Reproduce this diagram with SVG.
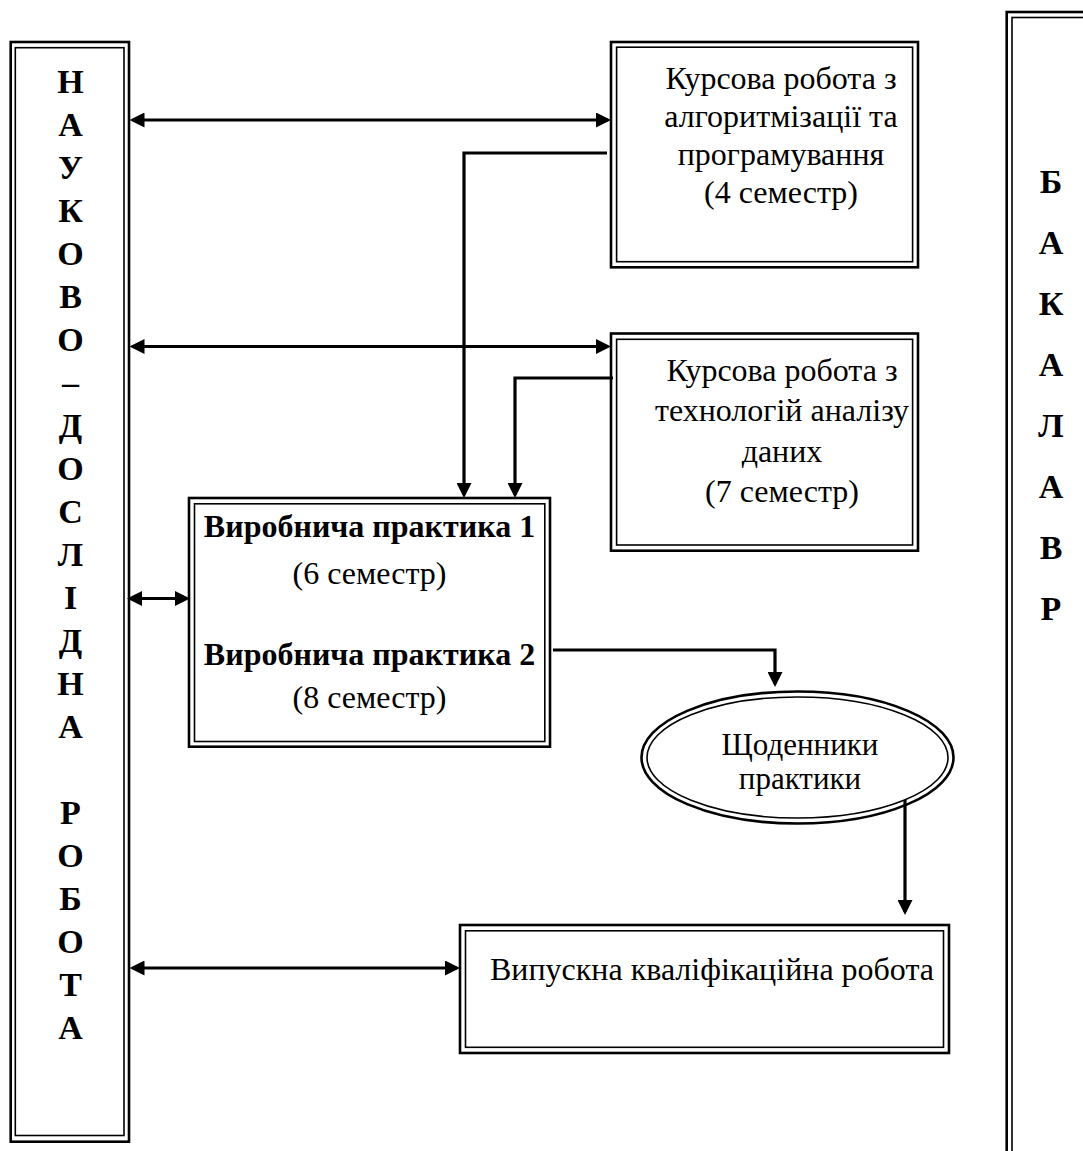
<svg xmlns="http://www.w3.org/2000/svg" width="1083" height="1151" viewBox="0 0 1083 1151">
<style>
.o{fill:none;stroke:#000;stroke-width:2.6}
.i{fill:none;stroke:#000;stroke-width:1.6}
.t{font-family:"Liberation Serif","Times New Roman",serif;font-size:32px;fill:#000;text-anchor:middle}
.e{font-size:31px}
.b{font-weight:bold}
.v{font-family:"Liberation Serif","Times New Roman",serif;font-size:34px;font-weight:bold;fill:#000;text-anchor:middle}
.c{fill:none;stroke:#000;stroke-width:3.2}
</style>
<defs>
<marker id="ah" viewBox="0 0 15 15" refX="12" refY="7.5" markerWidth="15" markerHeight="15" markerUnits="userSpaceOnUse" orient="auto-start-reverse">
<path d="M0,0 L15,7.5 L0,15 z" fill="#000"/>
</marker>
</defs>
<rect width="1083" height="1151" fill="#fff"/>

<g id="research">
<rect class="o" x="10.7" y="42" width="118.3" height="1099.7"/>
<rect class="i" x="15.3" y="47.7" width="108.7" height="1087.8"/>
<text class="v" x="70.5" y="92.7">Н</text>
<text class="v" x="70.5" y="135.7">А</text>
<text class="v" x="70.5" y="178.7">У</text>
<text class="v" x="70.5" y="221.7">К</text>
<text class="v" x="70.5" y="264.7">О</text>
<text class="v" x="70.5" y="307.7">В</text>
<text class="v" x="70.5" y="350.7">О</text>
<text class="v" x="70.5" y="393.7">–</text>
<text class="v" x="70.5" y="436.7">Д</text>
<text class="v" x="70.5" y="479.7">О</text>
<text class="v" x="70.5" y="522.7">С</text>
<text class="v" x="70.5" y="565.7">Л</text>
<text class="v" x="70.5" y="608.7">І</text>
<text class="v" x="70.5" y="651.7">Д</text>
<text class="v" x="70.5" y="694.7">Н</text>
<text class="v" x="70.5" y="737.7">А</text>
<text class="v" x="70.5" y="823.7">Р</text>
<text class="v" x="70.5" y="866.7">О</text>
<text class="v" x="70.5" y="909.7">Б</text>
<text class="v" x="70.5" y="952.7">О</text>
<text class="v" x="70.5" y="995.7">Т</text>
<text class="v" x="70.5" y="1038.7">А</text>
</g>

<g id="bachelor">
<rect class="o" x="1006.7" y="12" width="100" height="1160"/>
<rect class="i" x="1012" y="17.5" width="90" height="1150"/>
<text class="v" x="1051" y="193">Б</text>
<text class="v" x="1051" y="254">А</text>
<text class="v" x="1051" y="315">К</text>
<text class="v" x="1051" y="376">А</text>
<text class="v" x="1051" y="437">Л</text>
<text class="v" x="1051" y="498">А</text>
<text class="v" x="1051" y="559">В</text>
<text class="v" x="1051" y="620">Р</text>
</g>

<g id="course1">
<rect class="o" x="611" y="42" width="307" height="225.3"/>
<rect class="i" x="616.6" y="47.2" width="296" height="214.5"/>
<text class="t" x="781" y="89">Курсова робота з</text>
<text class="t" x="781" y="127">алгоритмізації та</text>
<text class="t" x="781" y="165">програмування</text>
<text class="t" x="781" y="203">(4 семестр)</text>
</g>

<g id="course2">
<rect class="o" x="611" y="333.5" width="307" height="217.2"/>
<rect class="i" x="616.6" y="339.3" width="296" height="205.7"/>
<text class="t" x="782" y="381">Курсова робота з</text>
<text class="t" x="782" y="421">технологій аналізу</text>
<text class="t" x="782" y="462">даних</text>
<text class="t" x="782" y="502">(7 семестр)</text>
</g>

<g id="practice">
<rect class="o" x="189" y="498" width="361" height="248.7"/>
<rect class="i" x="194.5" y="503.8" width="350.3" height="237.7"/>
<text class="t b" x="369.5" y="537">Виробнича практика 1</text>
<text class="t" x="369.5" y="584">(6 семестр)</text>
<text class="t b" x="369.5" y="665">Виробнича практика 2</text>
<text class="t" x="369.5" y="708">(8 семестр)</text>
</g>

<g id="diaries">
<ellipse class="o" cx="797.5" cy="757.5" rx="156" ry="66"/>
<ellipse class="i" cx="797.5" cy="757.5" rx="150.5" ry="60.5"/>
<text class="t e" x="800" y="755">Щоденники</text>
<text class="t e" x="800" y="789">практики</text>
</g>

<g id="thesis">
<rect class="o" x="460" y="925" width="489" height="128"/>
<rect class="i" x="465.5" y="930.8" width="478" height="116.5"/>
<text class="t" x="712" y="980">Випускна кваліфікаційна робота</text>
</g>

<g id="connectors">
<line class="c" x1="132.5" y1="120" x2="608" y2="120" marker-start="url(#ah)" marker-end="url(#ah)"/>
<line class="c" x1="132.5" y1="346.5" x2="608" y2="346.5" marker-start="url(#ah)" marker-end="url(#ah)"/>
<line class="c" x1="130" y1="598.5" x2="187" y2="598.5" marker-start="url(#ah)" marker-end="url(#ah)"/>
<line class="c" x1="132.5" y1="968" x2="457" y2="968" marker-start="url(#ah)" marker-end="url(#ah)"/>
<path class="c" d="M607,153 H464 V495" marker-end="url(#ah)"/>
<path class="c" d="M613,378 H515 V495" marker-end="url(#ah)"/>
<path class="c" d="M553,650 H775 V684" marker-end="url(#ah)"/>
<path class="c" d="M905,800 V912" marker-end="url(#ah)"/>
</g>
</svg>
